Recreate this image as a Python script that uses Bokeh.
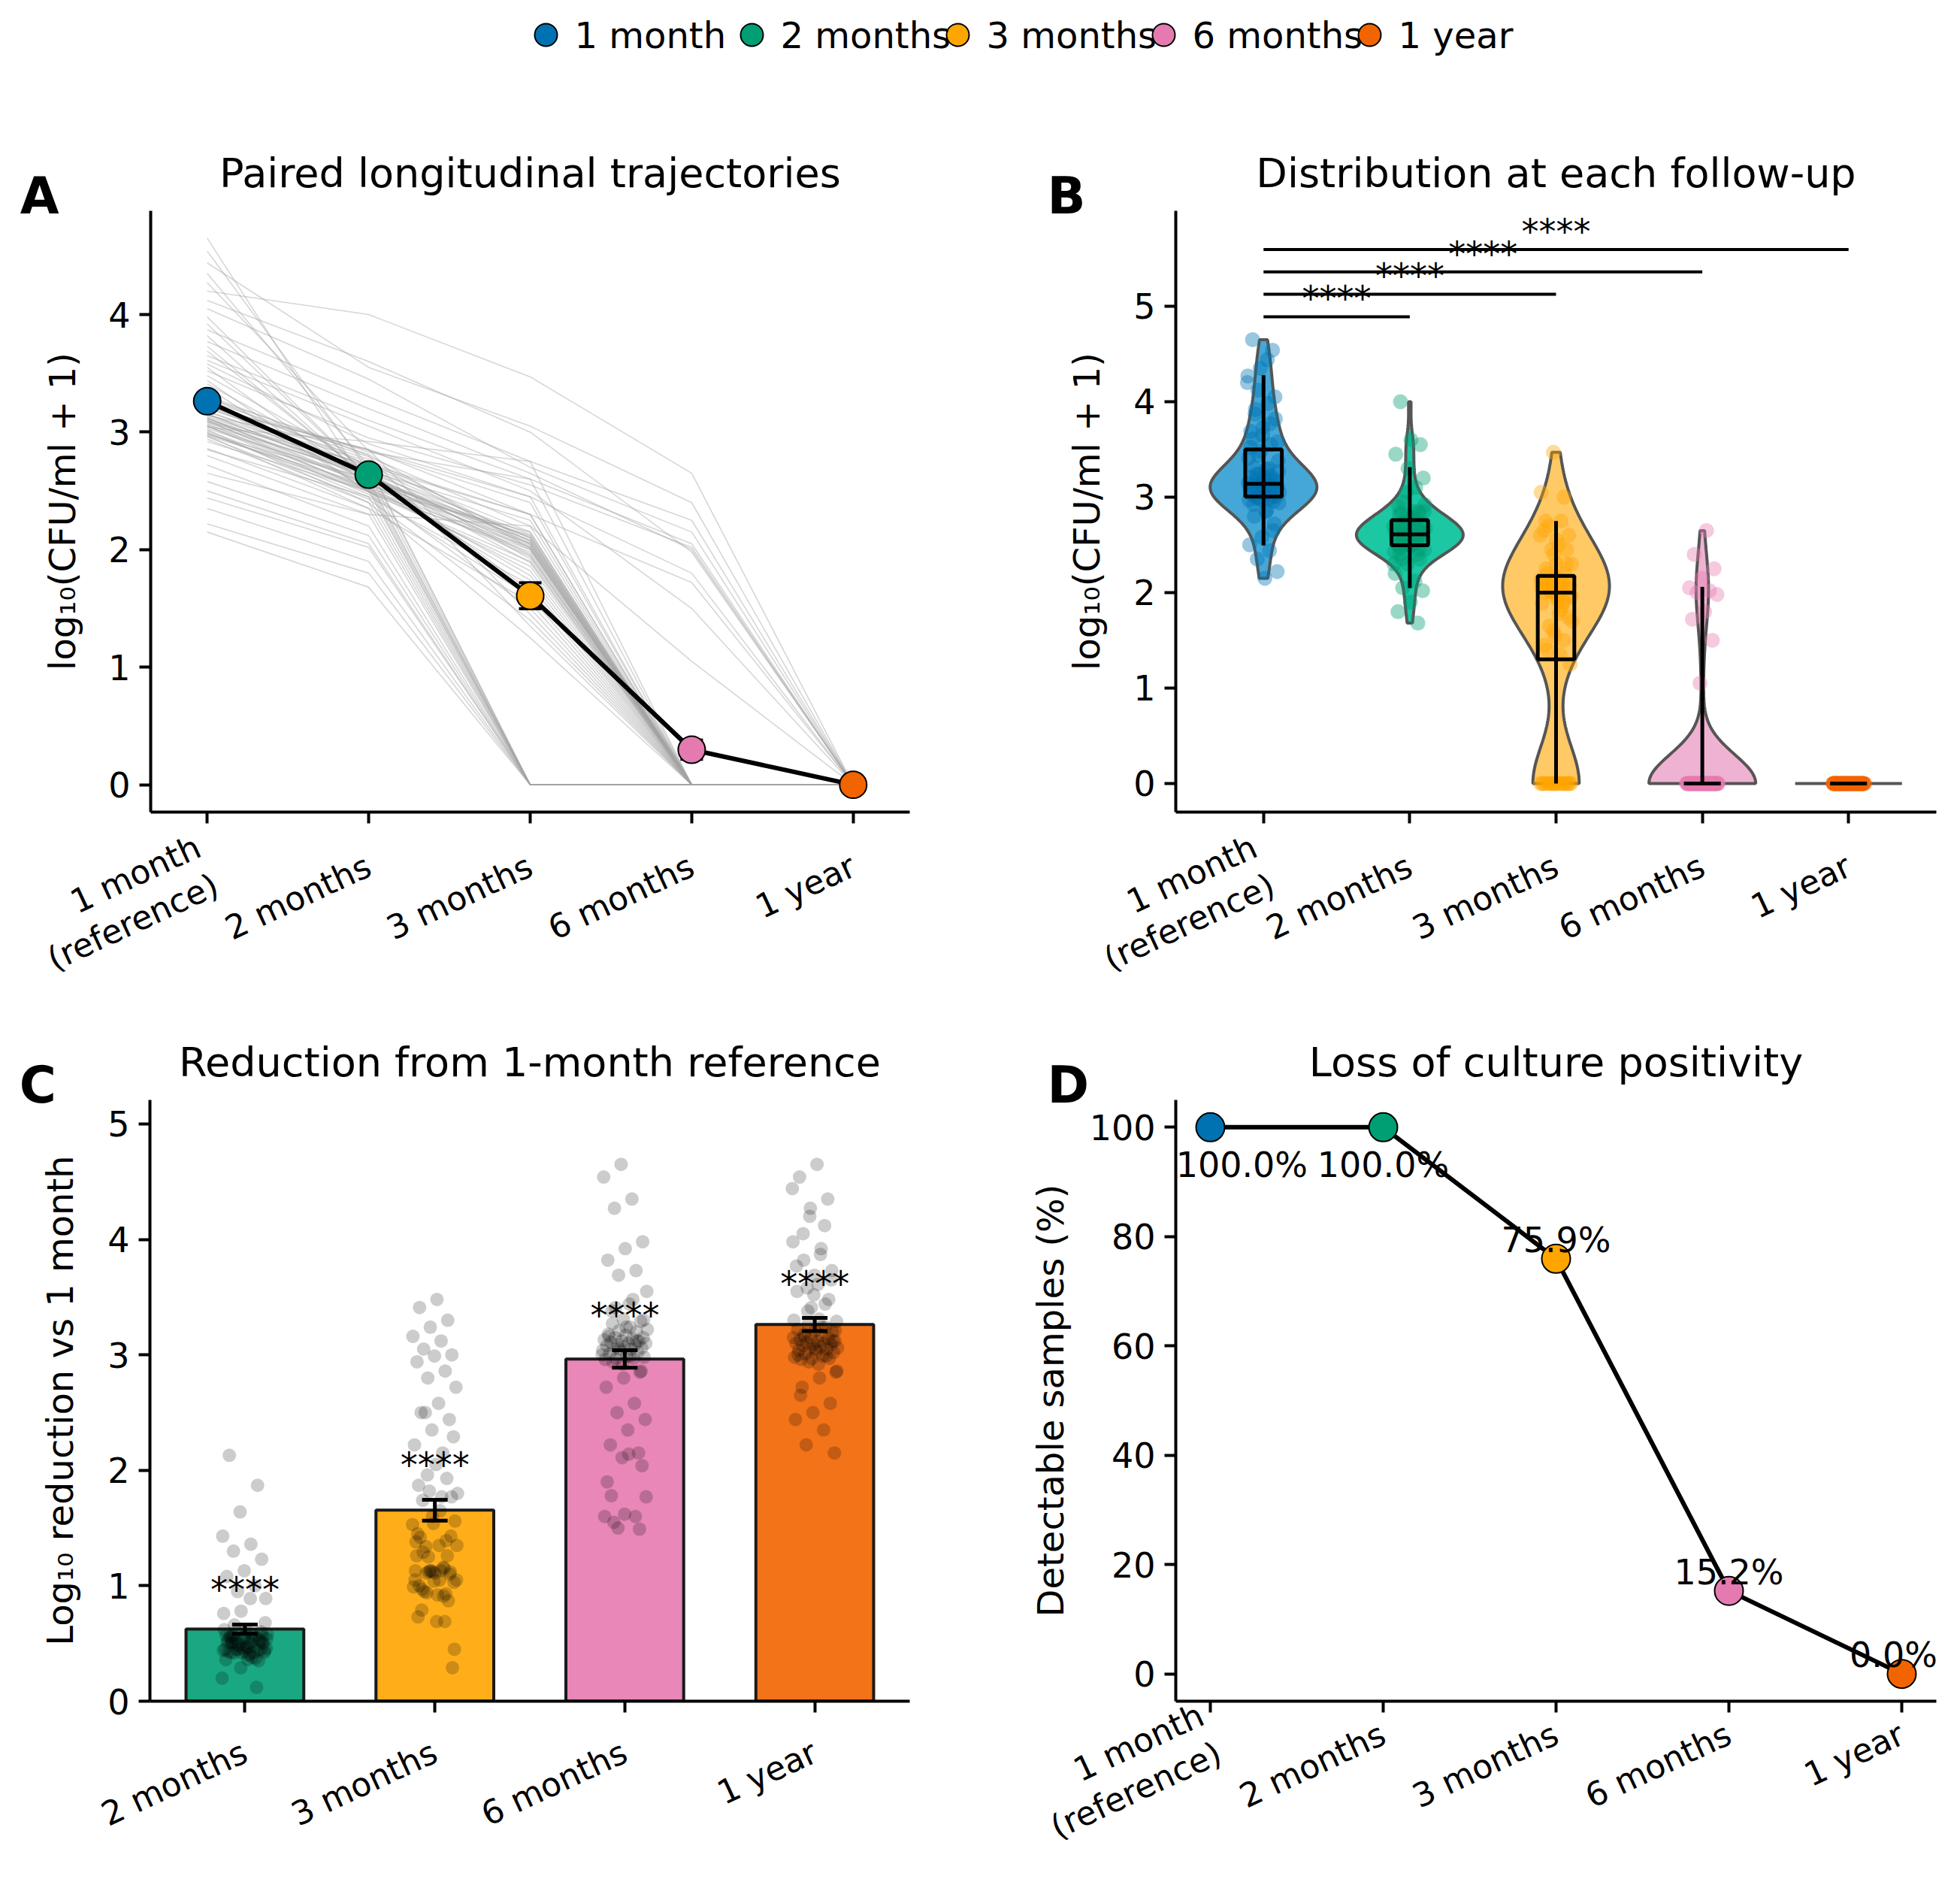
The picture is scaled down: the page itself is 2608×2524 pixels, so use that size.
import numpy as np
from bokeh.plotting import figure
from bokeh.layouts import column, row
from bokeh.models import Range1d, FixedTicker, Label, LabelSet, ColumnDataSource
from bokeh.core.properties import value
from bokeh.embed import file_html
from bokeh.resources import INLINE

FONT = "DejaVu Sans"

# follow-up time points
timepoints = ["1 month\n(reference)", "2 months", "3 months", "6 months", "1 year"]
legend_names = ["1 month", "2 months", "3 months", "6 months", "1 year"]
colors = ["#0072B2", "#009E73", "#FFA500", "#E57AB0", "#F26400"]
violin_colors = ["#45A7D7", "#1CC7A3", "#FFC966", "#F0B2D2"]

# log10(CFU/ml + 1) per subject, same subject order in every list
m1 = [4.20, 4.44, 3.87, 4.05, 3.65, 3.52, 3.77, 4.12, 3.58, 3.21, 3.61, 2.65,
      3.48, 3.41, 3.30, 3.24, 3.16, 3.12, 3.05, 3.00, 2.99, 2.94, 2.86, 2.80,
      2.72, 2.58, 2.50, 2.44, 2.35, 2.22, 2.15,
      4.65, 4.54, 4.35, 4.27, 3.98, 3.92, 3.82, 3.73, 3.69, 3.55, 3.44, 3.38,
      2.85, 2.92, 2.96, 2.97, 2.97, 2.98, 2.99, 3.01, 3.02, 3.03, 3.04, 3.05,
      3.05, 3.06, 3.07, 3.08, 3.09, 3.09, 3.10, 3.10, 3.11, 3.12, 3.12, 3.13,
      3.14, 3.15, 3.15, 3.17, 3.18, 3.20, 3.21, 3.22, 3.24, 3.27, 3.29, 3.31]
m2 = [4.00, 3.55, 3.30, 3.45, 3.10, 2.95, 3.20, 3.60, 2.90, 2.85, 3.05, 2.30,
      2.70, 2.65, 2.72, 2.58, 2.60, 2.55, 2.52, 2.45, 2.50, 2.40, 2.35, 2.30,
      2.20, 2.12, 2.05, 2.02, 1.90, 1.80, 1.68,
      2.52, 2.67, 2.71, 2.84, 2.62, 2.62, 2.59, 2.60, 2.61, 2.55, 2.49, 2.49,
      2.45, 2.50, 2.43, 2.55, 2.35, 2.60, 2.49, 2.51, 2.40, 2.60, 2.92, 2.57,
      2.47, 2.65, 2.52, 2.63, 2.55, 2.73, 2.62, 2.50, 2.67, 2.65, 2.57, 2.69,
      2.85, 2.71, 2.63, 2.75, 2.67, 2.77, 2.70, 2.85, 2.79, 2.81, 2.83, 2.80]
m3 = [3.47, 3.05, 2.75, 2.70, 2.60, 2.55, 2.65, 3.00, 2.45, 2.30, 2.50, 2.20,
      0, 0, 0, 0, 0, 0, 0, 0, 0, 0, 0, 0,
      0, 0, 0, 0, 0, 0, 0,
      2.15, 2.25, 2.30, 2.40, 2.05, 2.10, 2.02, 2.08, 1.95, 2.12, 1.90, 2.00,
      1.70, 1.98, 1.40, 2.05, 1.55, 2.11, 1.86, 2.02, 1.25, 2.08, 2.75, 1.94,
      1.60, 2.13, 1.82, 2.03, 1.74, 2.30, 2.00, 1.50, 2.06, 1.96, 1.78, 2.10,
      2.45, 2.15, 1.89, 2.04, 1.65, 2.07, 1.92, 1.45, 2.20, 2.01, 2.60, 1.35]
m6 = [2.65, 2.40, 2.25, 2.15, 2.05, 2.02, 2.00, 1.98, 1.80, 1.72, 1.50, 1.05,
      0, 0, 0, 0, 0, 0, 0, 0, 0, 0, 0, 0,
      0, 0, 0, 0, 0, 0, 0,
      0, 0, 0, 0, 0, 0, 0, 0, 0, 0, 0, 0,
      0, 0, 0, 0, 0, 0, 0, 0, 0, 0, 0, 0,
      0, 0, 0, 0, 0, 0, 0, 0, 0, 0, 0, 0,
      0, 0, 0, 0, 0, 0, 0, 0, 0, 0, 0, 0]
y1 = [0, 0, 0, 0, 0, 0, 0, 0, 0, 0, 0, 0,
      0, 0, 0, 0, 0, 0, 0, 0, 0, 0, 0, 0,
      0, 0, 0, 0, 0, 0, 0,
      0, 0, 0, 0, 0, 0, 0, 0, 0, 0, 0, 0,
      0, 0, 0, 0, 0, 0, 0, 0, 0, 0, 0, 0,
      0, 0, 0, 0, 0, 0, 0, 0, 0, 0, 0, 0,
      0, 0, 0, 0, 0, 0, 0, 0, 0, 0, 0, 0]
sig_labels = ["****", "****", "****", "****"]

data = np.array([m1, m2, m3, m6, y1], dtype=float)
n = data.shape[1]
x5 = np.arange(5)
means = data.mean(axis=1)
sems = data.std(axis=1, ddof=1) / np.sqrt(n)

FRAME_W = 1012


def jitter(count, shift, spread):
    k = np.arange(count)
    return ((k * 0.6180339887 + shift) % 1.0 - 0.5) * 2 * spread


def make_fig(title, xr, yr, left, right, top, bottom, height, label_standoff, tick_standoff):
    p = figure(width=1296, height=height, x_range=Range1d(*xr), y_range=Range1d(*yr),
               toolbar_location=None, output_backend="svg",
               min_border_left=left, min_border_right=right,
               min_border_top=top, min_border_bottom=bottom)
    p.title.text = title
    p.title.align = "center"
    p.title.text_font = FONT
    p.title.text_font_size = "54px"
    p.title.text_font_style = "normal"
    p.title.text_color = "black"
    p.title.standoff = 38
    p.outline_line_color = None
    p.grid.visible = False
    for ax in (p.xaxis[0], p.yaxis[0]):
        ax.axis_line_width = 4
        ax.axis_line_color = "black"
        ax.major_tick_line_width = 4
        ax.major_tick_line_color = "black"
        ax.major_tick_out = 15
        ax.major_tick_in = 0
        ax.minor_tick_line_color = None
        ax.major_label_text_font = FONT
        ax.major_label_text_font_size = "46px"
        ax.major_label_text_color = "black"
        ax.major_label_standoff = 12
        ax.axis_label_text_font = FONT
        ax.axis_label_text_font_size = "48px"
        ax.axis_label_text_font_style = "normal"
        ax.axis_label_text_color = "black"
    p.yaxis[0].axis_label_standoff = label_standoff
    xa = p.xaxis[0]
    xa.major_label_orientation = np.radians(25)
    xa.major_label_text_font_size = "44px"
    xa.major_label_text_line_height = 1.1
    xa.major_label_standoff = tick_standoff
    return p


def set_cats(p, labels):
    p.xaxis.ticker = FixedTicker(ticks=list(range(len(labels))))
    p.xaxis.major_label_overrides = {i: lab for i, lab in enumerate(labels)}


def letter(p, txt, dx):
    # panel letter sits left of the y axis, so it lives in the left side panel (not clipped)
    ppu = FRAME_W / (p.x_range.end - p.x_range.start)
    p.add_layout(Label(x=p.x_range.start + dx / ppu, y=p.y_range.end, y_offset=20,
                       text=txt, text_font=FONT, text_font_size="67px",
                       text_font_style="bold", text_baseline="alphabetic",
                       text_color="black"), "left")


LW, LH = 2592, 90
TOP1, BOT1, H1 = 190, 279, 1269
TOP2, BOT2, H2 = 104, 245, 1149

# ---- A: trajectories
top = data.max()
pA = make_fig("Paired longitudinal trajectories", (-0.35, 4.35),
              (-0.05 * top, 1.05 * top), 198, 86, TOP1, BOT1, H1, 30, 54)
set_cats(pA, timepoints)
pA.yaxis.ticker = FixedTicker(ticks=[0, 1, 2, 3, 4])
pA.yaxis.axis_label = "log\u2081\u2080(CFU/ml + 1)"
pA.multi_line([list(x5)] * n, [list(data[:, i]) for i in range(n)],
              line_color="#a3a3a3", line_alpha=0.45, line_width=1.6)
pA.line(x5, means, line_color="black", line_width=6)
pA.segment(x0=x5, y0=means - sems, x1=x5, y1=means + sems, line_color="black", line_width=4)
pA.scatter(np.r_[x5, x5], np.r_[means - sems, means + sems], marker="dash", size=30,
           line_color="black", line_width=4)
pA.scatter(x5, means, size=36, fill_color=colors, line_color="black", line_width=2)
letter(pA, "A", -174)

# ---- B: violins
pB = make_fig("Distribution at each follow-up", (-0.6, 4.6), (-0.3, 6.0),
              268, 16, TOP1, BOT1, H1, 31, 54)
set_cats(pB, timepoints)
pB.yaxis.ticker = FixedTicker(ticks=[0, 1, 2, 3, 4, 5])
pB.yaxis.axis_label = "log\u2081\u2080(CFU/ml + 1)"
half = 0.365
for g in range(5):
    v = data[g]
    lo, hi = v.min(), v.max()
    if hi - lo < 1e-9:
        pB.segment(x0=[g - half], y0=[lo], x1=[g + half], y1=[lo], line_color="#555555", line_width=4)
    else:
        bw = v.std(ddof=1) * len(v) ** (-0.2)
        ys = np.linspace(lo, hi, 200)
        dens = np.exp(-0.5 * ((ys[:, None] - v[None, :]) / bw) ** 2).sum(axis=1)
        w = dens / dens.max() * half
        pB.patch(np.r_[g - w, (g + w)[::-1]], np.r_[ys, ys[::-1]],
                 fill_color=violin_colors[g], line_color="#555555", line_width=4)
    pB.scatter(g + jitter(n, 0.21 * g, 0.11), v, size=20, fill_color=colors[g],
               line_color=None, fill_alpha=0.4)
for g in range(5):
    v = data[g]
    q1, med, q3 = np.percentile(v, [25, 50, 75])
    w5, w95 = np.percentile(v, [5, 95])
    pB.segment(x0=[g], y0=[w5], x1=[g], y1=[w95], line_color="black", line_width=5)
    pB.quad(left=[g - 0.125], right=[g + 0.125], bottom=[q1], top=[q3],
            fill_color=None, line_color="black", line_width=5)
    pB.segment(x0=[g - 0.125], y0=[med], x1=[g + 0.125], y1=[med], line_color="black", line_width=5)
bar_y = data[0].max() + 0.24 + 0.235 * np.arange(4)
pB.segment(x0=np.zeros(4), y0=bar_y, x1=np.arange(1, 5), y1=bar_y, line_color="black", line_width=4)
pB.text(np.arange(1, 5) / 2.0, bar_y + 0.19, text=sig_labels, text_font=value(FONT),
        text_font_size="46px", text_align="center", text_baseline="alphabetic")
letter(pB, "B", -171)

# ---- C: reduction bars
red = [data[0] - data[k] for k in range(1, 5)]
red_means = np.array([r.mean() for r in red])
red_sems = np.array([r.std(ddof=1) / np.sqrt(n) for r in red])
x4 = np.arange(4)
pC = make_fig("Reduction from 1-month reference", (-0.5, 3.5),
              (0, max(r.max() for r in red) * 1.12), 198, 86, TOP2, BOT2, H2, 32, 50)
set_cats(pC, timepoints[1:])
pC.yaxis.ticker = FixedTicker(ticks=[0, 1, 2, 3, 4, 5])
pC.yaxis.axis_label = "Log\u2081\u2080 reduction vs 1 month"
pC.vbar(x=x4, top=red_means, width=0.62, fill_color=colors[1:], fill_alpha=0.9,
        line_color="#1a1a1a", line_width=4)
for k in range(4):
    pC.scatter(k + jitter(n, 0.13 * k, 0.12), red[k], size=18, fill_color="black",
               line_color=None, fill_alpha=0.2)
pC.segment(x0=x4, y0=red_means - red_sems, x1=x4, y1=red_means + red_sems,
           line_color="black", line_width=5)
pC.scatter(np.r_[x4, x4], np.r_[red_means - red_sems, red_means + red_sems], marker="dash",
           size=34, line_color="black", line_width=5)
pC.text(x4, red_means + red_sems + 0.30, text=sig_labels, text_font=value(FONT),
        text_font_size="46px", text_align="center", text_baseline="alphabetic")
letter(pC, "C", -174)

# ---- D: percent detectable
pct = np.array([100.0 * np.mean(r > 0) for r in data])
pD = make_fig("Loss of culture positivity", (-0.2, 4.2), (-5, 105),
              268, 16, TOP2, BOT2, H2, 21, 26)
set_cats(pD, timepoints)
pD.yaxis.ticker = FixedTicker(ticks=[0, 20, 40, 60, 80, 100])
pD.yaxis.axis_label = "Detectable samples (%)"
pD.line(x5, pct, line_color="black", line_width=6)
pD.scatter(x5, pct, size=38, fill_color=colors, line_color="black", line_width=2)
pct_text = [f"{p:.1f}%" for p in pct]
ppu_d = FRAME_W / (pD.x_range.end - pD.x_range.start)
half_w = [0.31 * 46 * len(t) / ppu_d for t in pct_text]
lab_x = [min(max(x, pD.x_range.start + h + 0.01), pD.x_range.end - h) for x, h in zip(x5, half_w)]
lab_src = ColumnDataSource(dict(x=lab_x, y=[p + 3.4 if p < 95 else p - 6.9 for p in pct],
                                text=pct_text))
pD.add_layout(LabelSet(x="x", y="y", text="text", source=lab_src, text_font=value(FONT),
                       text_font_size=value("46px"), text_align="center",
                       text_baseline="middle", text_color="black"))
letter(pD, "D", -171)

# ---- shared legend strip on top (pixel coordinates)
pL = figure(width=LW, height=LH, x_range=Range1d(0, LW), y_range=Range1d(0, LH),
            toolbar_location=None, output_backend="svg", min_border=0,
            x_axis_location=None, y_axis_location=None)
pL.outline_line_color = None
pL.grid.visible = False
leg_x = 726 + 274 * np.arange(len(legend_names))
leg_y = np.full(len(legend_names), LH - 46.0)
pL.scatter(leg_x, leg_y, size=30, fill_color=colors, line_color="black", line_width=2)
pL.text(leg_x + 38, leg_y, text=legend_names, text_font=value(FONT), text_font_size="48px",
        text_align="left", text_baseline="middle", text_color="black")

layout = column(pL, row(pA, pB), row(pC, pD))
open("out.html", "w").write(file_html(layout, INLINE))
